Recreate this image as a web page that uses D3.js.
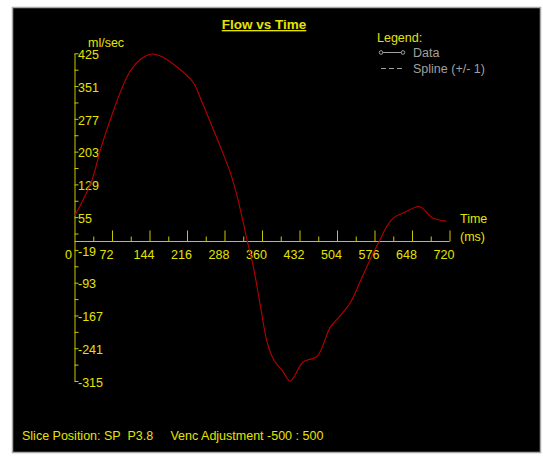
<!DOCTYPE html>
<html>
<head>
  <meta charset="utf-8">
  <script src="https://d3js.org/d3.v7.min.js"></script>
  <style>
    body { margin: 0; background: #fff; }
    svg text { font-family: "Liberation Sans", Arial, sans-serif; }
    .axis path, .axis line { stroke: #c8c800; }
    .axis text { fill: #e4e400; font-size: 12.5px; }
  </style>
</head>
<body>
  <svg id="chart" width="543" height="456"></svg>
  <script>
    // values
    const timeMs = [0, 17, 34, 50, 69, 88, 107, 126, 146, 165, 197, 228, 242, 261, 280, 299, 312, 324, 331, 343,
      357, 370, 382, 401, 414, 439, 466, 491, 510, 530, 549, 568, 587, 600, 613, 632, 661, 670, 686, 699, 714];
    const flow = [58, 95, 140, 208, 276, 337, 385, 411, 423, 419, 394, 359, 323, 269, 214, 156, 103, 43, 5, -55,
      -146, -228, -266, -295, -315, -272, -259, -194, -168, -137, -89, -40, 5, 35, 54, 65, 79, 73, 54, 49, 46];
    const yTicks = [425, 351, 277, 203, 129, 55, -19, -93, -167, -241, -315];
    const xTicks = [72, 144, 216, 288, 360, 432, 504, 576, 648, 720];
    const legendItems = ["Data", "Spline (+/- 1)"];

    const svg = d3.select("#chart");
    const yellow = "#e4e400";

    // black panel
    svg.append("rect")
      .attr("x", 12.5).attr("y", 7.5)
      .attr("width", 528).attr("height", 445)
      .attr("fill", "#000")
      .attr("stroke", "#a8a8a8")
      .attr("stroke-width", 1.5);

    const xScale = d3.scaleLinear().domain([0, 720]).range([74.5, 449.5]);
    const yScale = d3.scaleLinear().domain([-315, 425]).range([381, 53.3]);

    // y axis, minor ticks halfway between labelled ones
    const yMinor = yTicks.slice(0, -1).map(v => v - 37);
    const yAxis = d3.axisRight(yScale)
      .tickValues(yTicks.concat(yMinor))
      .tickSize(4)
      .tickSizeOuter(0)
      .tickPadding(-0.5)
      .tickFormat(d => yTicks.includes(d) ? d : "");
    svg.append("g").attr("class", "axis")
      .attr("transform", `translate(${xScale(0)},0)`)
      .call(yAxis)
      .selectAll("text").attr("dy", "0.42em");

    // x axis at zero flow, ticks every 36 ms pointing up
    const xAxis = d3.axisBottom(xScale)
      .tickValues(d3.range(36, 721, 36))
      .tickSizeOuter(0)
      .tickFormat(d => xTicks.includes(d) ? d : "");
    const xg = svg.append("g").attr("class", "axis")
      .attr("transform", `translate(0,${yScale(0)})`)
      .call(xAxis);
    xg.selectAll(".tick line").attr("y2", d => xTicks.includes(d) ? -11 : -5);
    xg.selectAll(".tick text").attr("y", 9).attr("dx", -6);
    xg.select(".domain").attr("d", `M${xScale(0)},0H${xScale(720)}`);

    svg.append("text").attr("x", 65).attr("y", yScale(0) + 17)
      .attr("fill", yellow).attr("font-size", "12.5px").text("0");

    // axis titles
    svg.append("text").attr("x", 88).attr("y", 47)
      .attr("fill", yellow).attr("font-size", "12.5px").text("ml/sec");
    svg.append("text").attr("x", 460).attr("y", 223)
      .attr("fill", yellow).attr("font-size", "12.5px").text("Time");
    svg.append("text").attr("x", 460).attr("y", 241)
      .attr("fill", yellow).attr("font-size", "12.5px").text("(ms)");

    // title
    svg.append("text").attr("x", 264).attr("y", 29)
      .attr("text-anchor", "middle")
      .attr("fill", yellow).attr("font-size", "13.5px").attr("font-weight", "bold")
      .attr("text-decoration", "underline")
      .text("Flow vs Time");

    // legend
    const legend = svg.append("g").attr("transform", "translate(377,0)");
    legend.append("text").attr("x", 0).attr("y", 42)
      .attr("fill", yellow).attr("font-size", "12.5px").text("Legend:");
    legend.append("line").attr("x1", 4).attr("x2", 26).attr("y1", 52.5).attr("y2", 52.5)
      .attr("stroke", "#a0a0a0");
    legend.selectAll("circle.sym").data([4, 26]).join("circle").attr("class", "sym")
      .attr("cx", d => d).attr("cy", 52.5).attr("r", 1.8)
      .attr("fill", "#000").attr("stroke", "#a0a0a0");
    legend.append("line").attr("x1", 4).attr("x2", 26).attr("y1", 68.5).attr("y2", 68.5)
      .attr("stroke", "#a0a0a0").attr("stroke-dasharray", "5,3");
    legend.selectAll("text.item").data(legendItems).join("text").attr("class", "item")
      .attr("x", 36).attr("y", (d, i) => 57 + i * 16)
      .attr("fill", "#a0a0a0").attr("font-size", "12.5px").text(d => d);

    // flow curve
    const line = d3.line()
      .x((d, i) => xScale(timeMs[i]))
      .y(d => yScale(d))
      .curve(d3.curveCatmullRom);
    svg.append("path")
      .attr("d", line(flow))
      .attr("fill", "none")
      .attr("stroke", "#b80000")
      .attr("stroke-width", 1.1);

    // footer
    svg.append("text").attr("x", 22).attr("y", 440)
      .attr("fill", yellow).attr("font-size", "12.5px")
      .attr("xml:space", "preserve")
      .text("Slice Position: SP  P3.8     Venc Adjustment -500 : 500");
  </script>
</body>
</html>
